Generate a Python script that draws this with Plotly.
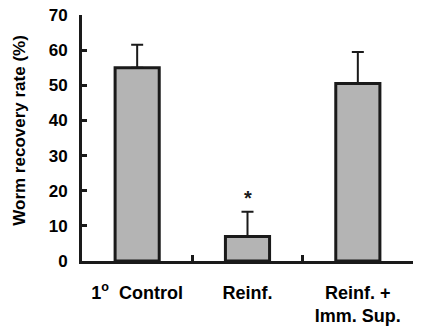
import plotly.graph_objects as go

categories = ["1<sup>o</sup>  Control", "Reinf.", "Reinf. +<br>Imm. Sup."]
values = [55, 7, 50.5]
errors_up = [6.5, 7, 9]
y_ticks = [0, 10, 20, 30, 40, 50, 60, 70]

FONT = "Liberation Sans, Arial, sans-serif"
INK = "#1a1a1a"

fig = go.Figure()
fig.add_trace(go.Bar(
    x=categories, y=values,
    marker=dict(color="#b4b4b4", line=dict(color=INK, width=3)),
    error_y=dict(type="data", array=errors_up, arrayminus=[0, 0, 0],
                 symmetric=False, color=INK, thickness=2, width=6),
))
fig.add_annotation(x=categories[1], y=values[1] + errors_up[1] + 0.3, text="<b>*</b>",
                   showarrow=False, font=dict(family=FONT, size=20, color=INK),
                   yanchor="bottom")
fig.add_annotation(xref="paper", yref="paper", x=-0.187, y=0.53,
                   text="<b>Worm recovery rate (%)</b>", textangle=-90,
                   showarrow=False, font=dict(family=FONT, size=17, color="black"),
                   xanchor="center", yanchor="middle")

fig.update_layout(
    width=432, height=333,
    margin=dict(l=82, r=19, t=15, b=72),
    paper_bgcolor="white", plot_bgcolor="white",
    showlegend=False, bargap=0.6,
    font=dict(family=FONT, color=INK),
)
fig.update_xaxes(
    type="category", showline=True, linewidth=3, linecolor=INK,
    ticks="inside", tickson="boundaries", ticklen=6, tickwidth=3, tickcolor=INK,
    tickfont=dict(family=FONT, size=18, color="black", weight="bold"),
    ticklabelstandoff=13, showgrid=False, zeroline=False, automargin=False,
)
fig.update_yaxes(
    range=[0, 70], tickvals=y_ticks, showline=True, linewidth=3, linecolor=INK,
    ticks="inside", ticklen=5, tickwidth=3, tickcolor=INK,
    tickfont=dict(family=FONT, size=17, color="black", weight="bold"),
    ticklabelstandoff=8, showgrid=False, zeroline=False, automargin=False,
)
fig.write_html("out.html")
